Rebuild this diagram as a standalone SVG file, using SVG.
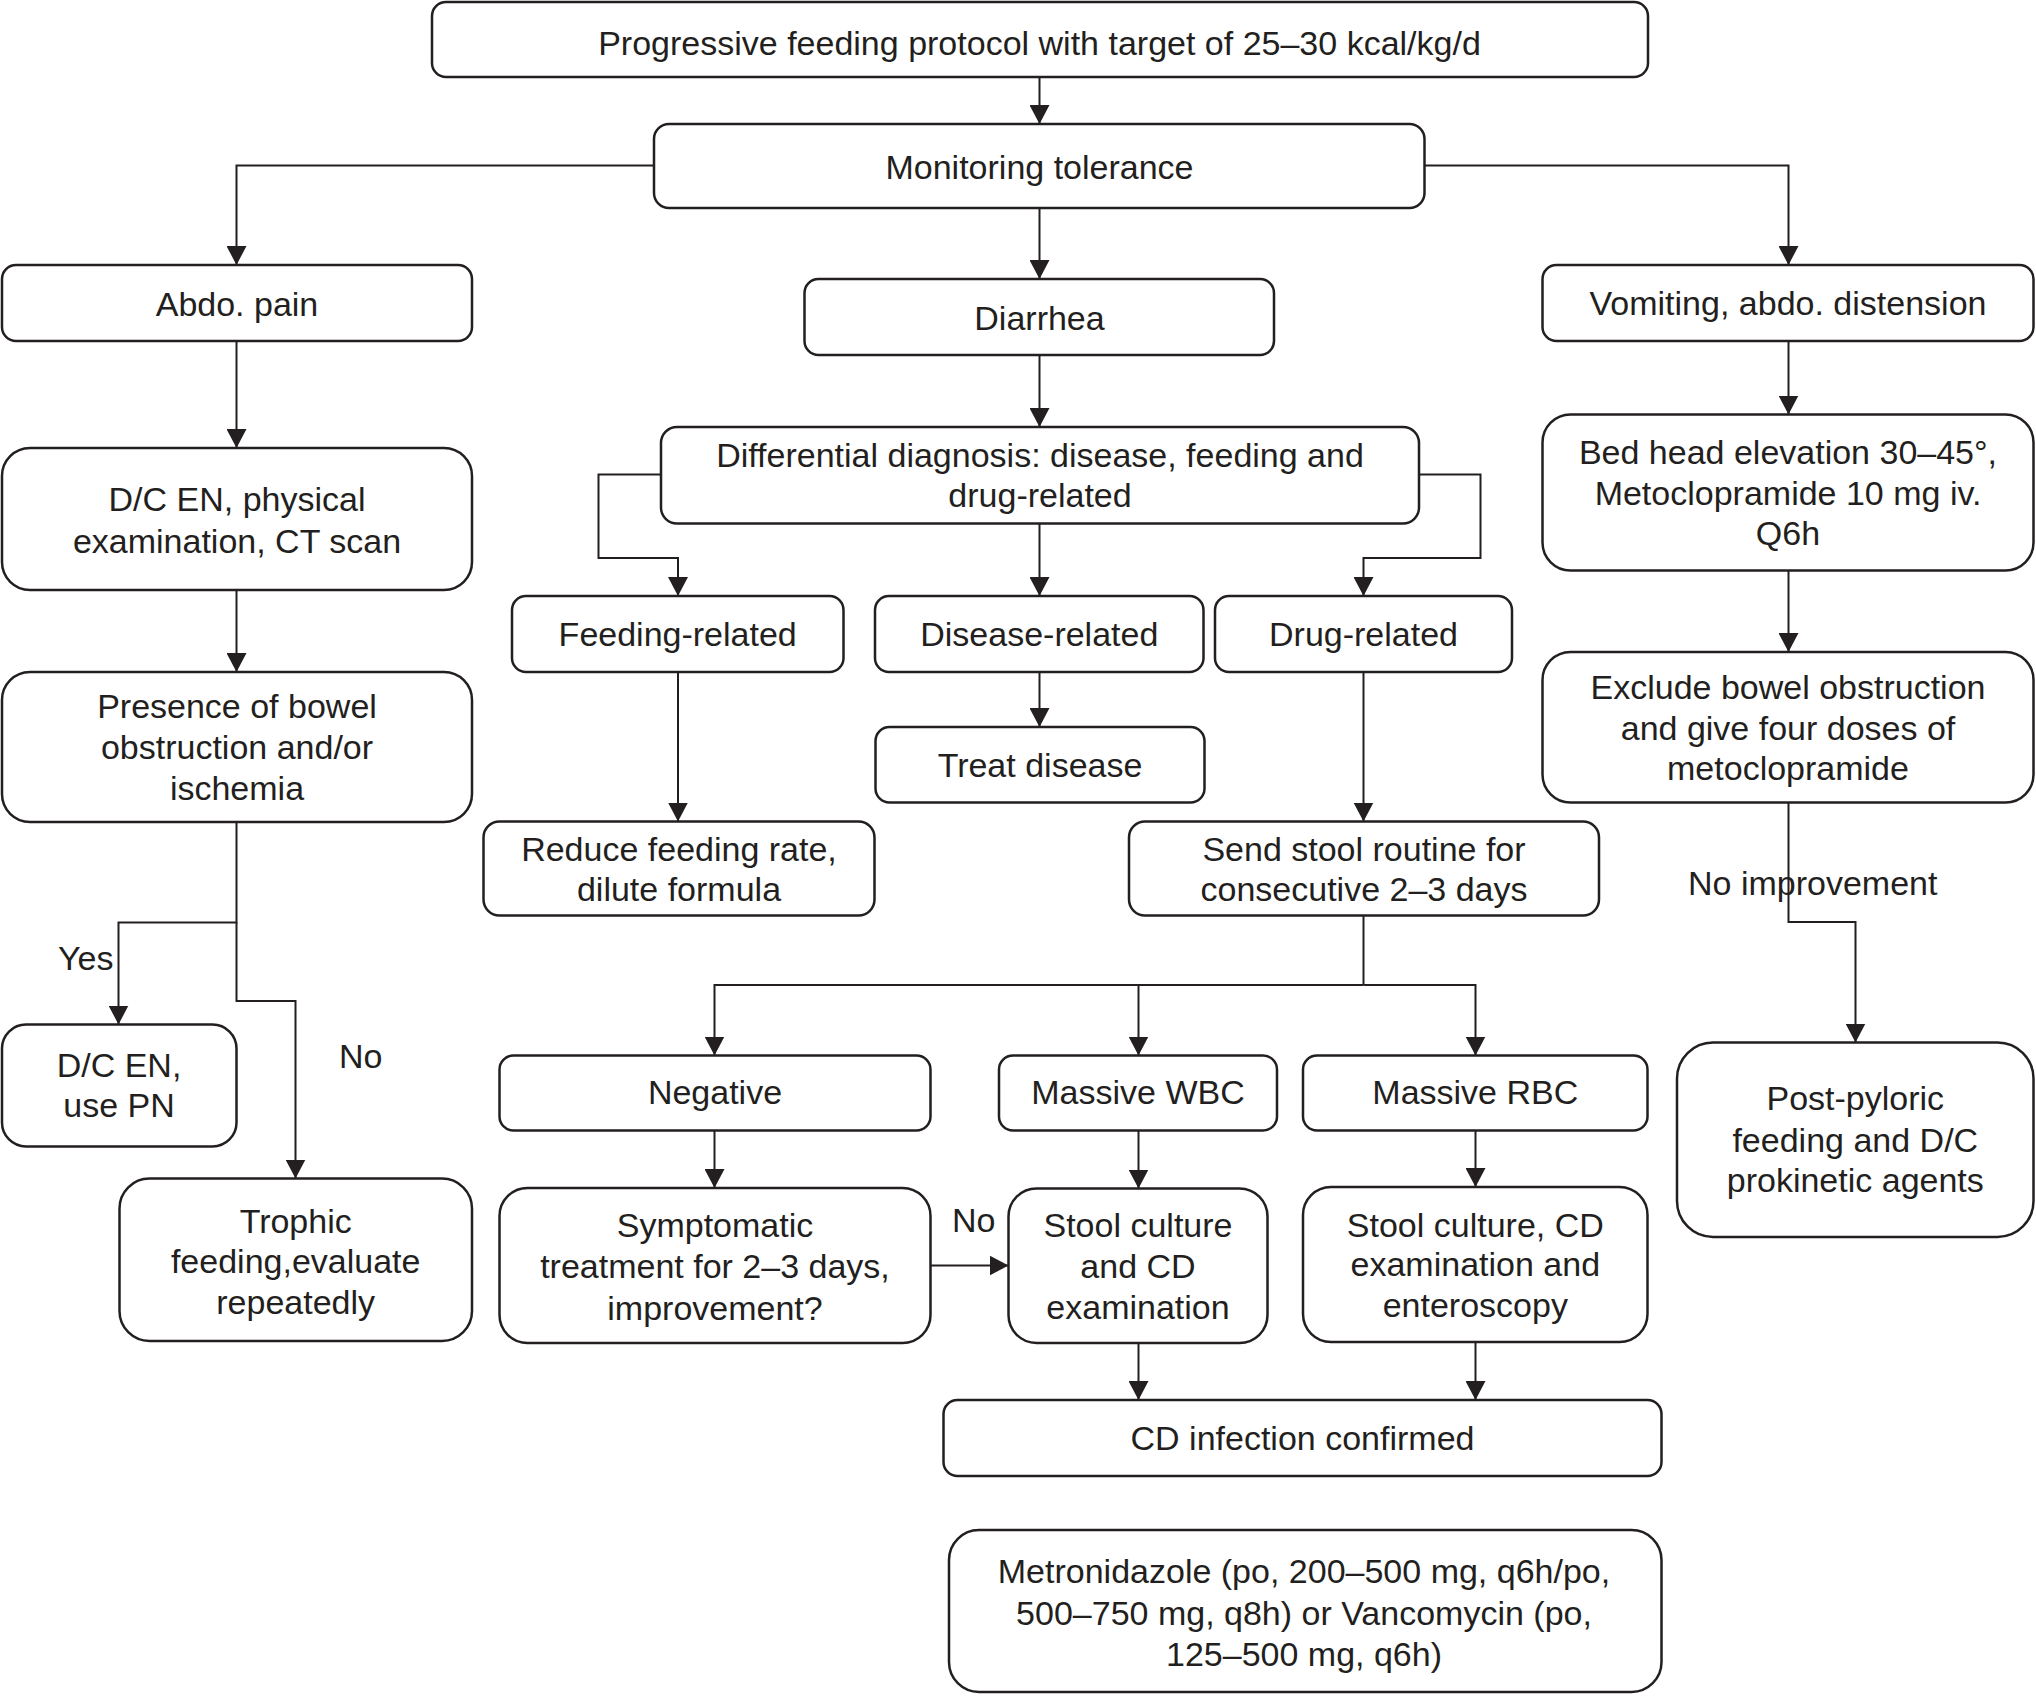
<svg xmlns="http://www.w3.org/2000/svg" width="2036" height="1696" viewBox="0 0 2036 1696">
<style>
.box{fill:#fff;stroke:#231f20;stroke-width:2.5}
.t{font-family:"Liberation Sans",Arial,Helvetica,sans-serif;font-size:34px;text-anchor:middle;fill:#231f20}
.l{font-family:"Liberation Sans",Arial,Helvetica,sans-serif;font-size:34px;fill:#231f20}
.c{fill:none;stroke:#231f20;stroke-width:2;marker-end:url(#ah)}
.n{fill:none;stroke:#231f20;stroke-width:2}
</style>
<defs>
<marker id="ah" markerUnits="userSpaceOnUse" markerWidth="20" markerHeight="20" refX="19" refY="10" orient="auto">
<path d="M0,0 L19,10 L0,20 z" fill="#231f20"/>
</marker>
</defs>
<rect width="2036" height="1696" fill="#fff"/>
<g id="connectors">
<path class="c" d="M1039.5,77 V124"/>
<path class="c" d="M654,165.5 H236.5 V265"/>
<path class="c" d="M1424.5,165.5 H1788.5 V265"/>
<path class="c" d="M1039.5,208 V279"/>
<path class="c" d="M236.5,341 V448"/>
<path class="c" d="M236.5,590 V672"/>
<path class="c" d="M236.5,822 V922.5 H118.5 V1024.5"/>
<path class="c" d="M236.5,922.5 V1001 H295.5 V1178.5"/>
<path class="c" d="M1039.5,355 V427"/>
<path class="c" d="M661,474.5 H598.5 V558 H678 V596"/>
<path class="c" d="M1039.5,523.5 V596"/>
<path class="c" d="M1419,474.5 H1480.5 V558 H1363.5 V596"/>
<path class="c" d="M678,672 V821.5"/>
<path class="c" d="M1039.5,672 V727"/>
<path class="c" d="M1363.5,672 V821.5"/>
<path class="n" d="M1363.5,915.5 V985"/>
<path class="c" d="M1363.5,985 H714.5 V1055.5"/>
<path class="c" d="M1138.5,985 V1055.5"/>
<path class="c" d="M1363.5,985 H1475.5 V1055.5"/>
<path class="c" d="M714.5,1130.5 V1188"/>
<path class="c" d="M930.5,1265.5 H1008.5"/>
<path class="c" d="M1138.5,1130.5 V1188.5"/>
<path class="c" d="M1475.5,1130.5 V1187"/>
<path class="c" d="M1138.5,1343 V1400"/>
<path class="c" d="M1475.5,1342 V1400"/>
<path class="c" d="M1788.5,341 V414.5"/>
<path class="c" d="M1788.5,570.5 V652"/>
<path class="c" d="M1788.5,802.5 V922 H1855.5 V1042.5"/>
</g>
<g id="labels">
<text class="l" x="58" y="970">Yes</text>
<text class="l" x="339" y="1068">No</text>
<text class="l" x="952" y="1232">No</text>
<text class="l" x="1688" y="895">No improvement</text>
</g>
<g id="n-top"><rect class="box" x="432" y="2" width="1216" height="75" rx="14"/><text class="t" x="1039.5" y="55">Progressive feeding protocol with target of 25–30 kcal/kg/d</text></g>
<g id="n-monitor"><rect class="box" x="654" y="124" width="770.5" height="84" rx="15"/><text class="t" x="1039.5" y="179">Monitoring tolerance</text></g>
<g id="n-abdo"><rect class="box" x="2" y="265" width="470" height="76" rx="14"/><text class="t" x="237" y="316">Abdo. pain</text></g>
<g id="n-diarrhea"><rect class="box" x="804.5" y="279" width="469.5" height="76" rx="14"/><text class="t" x="1039.5" y="330">Diarrhea</text></g>
<g id="n-vomit"><rect class="box" x="1542.5" y="265" width="491" height="76" rx="14"/><text class="t" x="1788" y="314.5">Vomiting, abdo. distension</text></g>
<g id="n-dcen"><rect class="box" x="2" y="448" width="470" height="142" rx="28"/><text class="t" x="237" y="511">D/C EN, physical</text><text class="t" x="237" y="552.5">examination, CT scan</text></g>
<g id="n-diff"><rect class="box" x="661" y="427" width="758" height="96.5" rx="16"/><text class="t" x="1040" y="467">Differential diagnosis: disease, feeding and</text><text class="t" x="1040" y="507">drug-related</text></g>
<g id="n-bed"><rect class="box" x="1542.5" y="414.5" width="491" height="156" rx="28"/><text class="t" x="1788" y="463.5">Bed head elevation 30–45°,</text><text class="t" x="1788" y="505">Metoclopramide 10 mg iv.</text><text class="t" x="1788" y="545">Q6h</text></g>
<g id="n-presence"><rect class="box" x="2" y="672" width="470" height="150" rx="28"/><text class="t" x="237" y="718">Presence of bowel</text><text class="t" x="237" y="759">obstruction and/or</text><text class="t" x="237" y="800">ischemia</text></g>
<g id="n-feeding"><rect class="box" x="512" y="596" width="331.5" height="76" rx="14"/><text class="t" x="677.7" y="646">Feeding-related</text></g>
<g id="n-disease"><rect class="box" x="875" y="596" width="328.5" height="76" rx="14"/><text class="t" x="1039.3" y="646">Disease-related</text></g>
<g id="n-drug"><rect class="box" x="1215" y="596" width="297" height="76" rx="14"/><text class="t" x="1363.5" y="646">Drug-related</text></g>
<g id="n-exclude"><rect class="box" x="1542.5" y="652" width="491" height="150.5" rx="28"/><text class="t" x="1788" y="699">Exclude bowel obstruction</text><text class="t" x="1788" y="739.5">and give four doses of</text><text class="t" x="1788" y="780">metoclopramide</text></g>
<g id="n-treat"><rect class="box" x="875.5" y="727" width="329" height="75.5" rx="14"/><text class="t" x="1040" y="777">Treat disease</text></g>
<g id="n-reduce"><rect class="box" x="483.5" y="821.5" width="391" height="94" rx="16"/><text class="t" x="679" y="861">Reduce feeding rate,</text><text class="t" x="679" y="901">dilute formula</text></g>
<g id="n-send"><rect class="box" x="1129" y="821.5" width="470" height="94" rx="16"/><text class="t" x="1364" y="861">Send stool routine for</text><text class="t" x="1364" y="901">consecutive 2–3 days</text></g>
<g id="n-dcpn"><rect class="box" x="2" y="1024.5" width="234.5" height="122" rx="24"/><text class="t" x="119" y="1077">D/C EN,</text><text class="t" x="119" y="1117">use PN</text></g>
<g id="n-negative"><rect class="box" x="499.5" y="1055.5" width="431" height="75" rx="14"/><text class="t" x="715" y="1104">Negative</text></g>
<g id="n-wbc"><rect class="box" x="999" y="1055.5" width="278" height="75" rx="14"/><text class="t" x="1138" y="1104">Massive WBC</text></g>
<g id="n-rbc"><rect class="box" x="1303" y="1055.5" width="344.5" height="75" rx="14"/><text class="t" x="1475.3" y="1104">Massive RBC</text></g>
<g id="n-post"><rect class="box" x="1677" y="1042.5" width="356.5" height="194.5" rx="36"/><text class="t" x="1855.3" y="1110">Post-pyloric</text><text class="t" x="1855.3" y="1151.5">feeding and D/C</text><text class="t" x="1855.3" y="1191.5">prokinetic agents</text></g>
<g id="n-trophic"><rect class="box" x="119.5" y="1178.5" width="352.5" height="162.5" rx="30"/><text class="t" x="295.7" y="1233">Trophic</text><text class="t" x="295.7" y="1273">feeding,evaluate</text><text class="t" x="295.7" y="1313.5">repeatedly</text></g>
<g id="n-sympt"><rect class="box" x="499.5" y="1188" width="431" height="155" rx="28"/><text class="t" x="715" y="1236.5">Symptomatic</text><text class="t" x="715" y="1278">treatment for 2–3 days,</text><text class="t" x="715" y="1319.5">improvement?</text></g>
<g id="n-stool1"><rect class="box" x="1008.5" y="1188.5" width="259" height="154.5" rx="28"/><text class="t" x="1138" y="1236.5">Stool culture</text><text class="t" x="1138" y="1278">and CD</text><text class="t" x="1138" y="1318.5">examination</text></g>
<g id="n-stool2"><rect class="box" x="1303" y="1187" width="344.5" height="155" rx="28"/><text class="t" x="1475.3" y="1236.5">Stool culture, CD</text><text class="t" x="1475.3" y="1276">examination and</text><text class="t" x="1475.3" y="1317">enteroscopy</text></g>
<g id="n-cdinf"><rect class="box" x="943.5" y="1400" width="718" height="76" rx="14"/><text class="t" x="1302.5" y="1449.5">CD infection confirmed</text></g>
<g id="n-metro"><rect class="box" x="949" y="1530" width="712.5" height="162" rx="30"/><text class="t" x="1304" y="1583">Metronidazole (po, 200–500 mg, q6h/po,</text><text class="t" x="1304" y="1624.5">500–750 mg, q8h) or Vancomycin (po,</text><text class="t" x="1304" y="1665.5">125–500 mg, q6h)</text></g>
</svg>
